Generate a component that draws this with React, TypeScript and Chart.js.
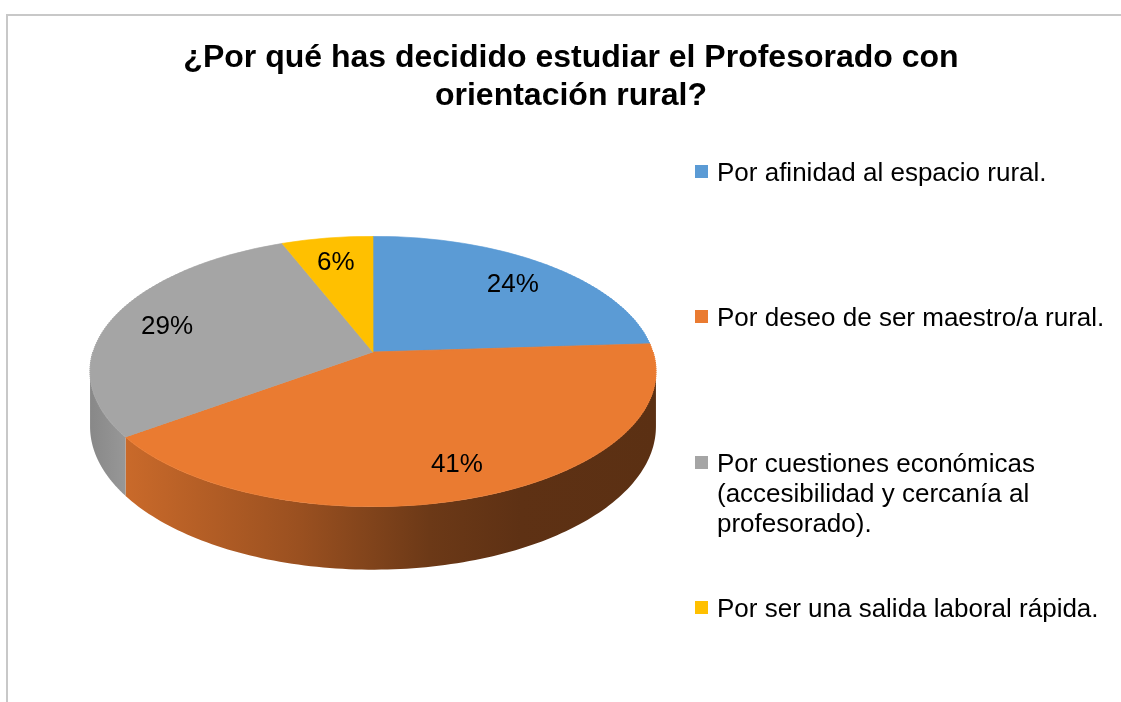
import React, { useEffect, useRef } from 'react';
import { Chart, registerables } from 'chart.js';

Chart.register(...registerables);

// ---- data ----
const TITLE_LINES = ['¿Por qué has decidido estudiar el Profesorado con', 'orientación rural?'];
const CATEGORIES = [
  ['Por afinidad al espacio rural.'],
  ['Por deseo de ser maestro/a rural.'],
  ['Por cuestiones económicas', '(accesibilidad y cercanía al', 'profesorado).'],
  ['Por ser una salida laboral rápida.'],
];
const PERCENTAGES = [24, 41, 29, 6];
const TOP_COLORS = ['#5B9BD5', '#EA7B31', '#A5A5A5', '#FFC000'];
const SIDE_STOPS: [number, string][][] = [
  [[0, '#3d6f9e'], [1, '#2c5378']],
  [[0, '#d06e2c'], [0.07, '#c8692a'], [0.37, '#9a5020'], [0.6, '#6c3917'], [0.76, '#5e3114'], [1, '#5b3013']],
  [[0, '#888888'], [0.07, '#999999'], [1, '#999999']],
  [[0, '#b88a00'], [1, '#8a6700']],
];

const FONT = '"Liberation Sans", Arial, Helvetica, sans-serif';

// 3D perspective pie: the library's arc elements are redrawn in thin horizontal
// strips, each under the affine transform that approximates the perspective there.
const pie3dPlugin = {
  id: 'pie3d',
  beforeDatasetsDraw(chart: any, _args: any, opts: any) {
    const ctx = chart.ctx;
    const arcs = chart.getDatasetMeta(0).data;
    if (!arcs.length) return;
    const p0 = arcs[0].getProps(['x', 'y', 'outerRadius'], true);
    const cx = p0.x, cy = p0.y, r = p0.outerRadius;
    const A = opts.yScale * r;
    const B = opts.persp;
    const d0 = opts.depth;
    const proj = (px: number, py: number) => {
      const t = (py - cy) / r;
      const w = 1 - B * t;
      return [cx + (px - cx) / w, cy + (A * t) / w, w];
    };

    // ---- side walls ----
    const vis0 = Math.asin(B);
    const vis1 = Math.PI - vis0;
    const xMin = cx - r / Math.sqrt(1 - B * B);
    const xMax = cx + r / Math.sqrt(1 - B * B);
    arcs.forEach((arc: any, i: number) => {
      const { startAngle, endAngle } = arc.getProps(['startAngle', 'endAngle'], true);
      for (const base of [-2 * Math.PI, 0, 2 * Math.PI]) {
        const a0 = Math.max(startAngle, base + vis0);
        const a1 = Math.min(endAngle, base + vis1);
        if (a1 <= a0) continue;
        const n = 120;
        const top: number[][] = [];
        for (let k = 0; k <= n; k++) {
          const th = a0 + ((a1 - a0) * k) / n;
          top.push(proj(cx + r * Math.cos(th), cy + r * Math.sin(th)));
        }
        ctx.save();
        ctx.beginPath();
        top.forEach((p, k) => (k === 0 ? ctx.moveTo(p[0], p[1]) : ctx.lineTo(p[0], p[1])));
        for (let k = n; k >= 0; k--) {
          const p = top[k];
          ctx.lineTo(p[0], p[1] + d0 / p[2]);
        }
        ctx.closePath();
        const g = ctx.createLinearGradient(xMin, 0, xMax, 0);
        opts.sideStops[i].forEach(([t, c]: [number, string]) => g.addColorStop(t, c));
        ctx.fillStyle = g;
        ctx.fill();
        ctx.restore();
      }
    });

    // ---- top face in strips ----
    const yTop = Math.floor(cy - A / (1 + B)) - 2;
    const yBot = Math.ceil(cy + A / (1 - B)) + 2;
    const h = 2;
    for (let Y = yTop; Y < yBot; Y += h) {
      const Ym = Y + h / 2;
      const wv = (Ym - cy) / A;
      const tm = wv / (1 + B * wv);
      const den = 1 - B * tm;
      const sx = 1 / den;
      const sy = A / (den * den) / r;
      const pym = cy + tm * r;
      ctx.save();
      ctx.beginPath();
      ctx.rect(0, Y, chart.width, h);
      ctx.clip();
      ctx.transform(sx, 0, 0, sy, cx - sx * cx, Ym - sy * pym);
      arcs.forEach((a: any) => a.draw(ctx));
      ctx.restore();
    }

    // ---- percentage labels ----
    const values = chart.data.datasets[0].data;
    ctx.save();
    ctx.font = `${opts.labelSize}px ${FONT}`;
    ctx.fillStyle = '#000';
    ctx.textAlign = 'center';
    ctx.textBaseline = 'middle';
    arcs.forEach((arc: any, i: number) => {
      const p = arc.getProps(['startAngle', 'endAngle'], true);
      const m = (p.startAngle + p.endAngle) / 2;
      const f = opts.labelRadius;
      const q = proj(cx + f * r * Math.cos(m), cy + f * r * Math.sin(m));
      ctx.fillText(`${values[i]}%`, q[0], q[1] + opts.labelShift);
    });
    ctx.restore();
    return false;
  },
};

const textPlugin = {
  id: 'textDecor',
  beforeDraw(chart: any) {
    const ctx = chart.ctx;
    ctx.save();
    ctx.strokeStyle = '#c8c8c8';
    ctx.lineWidth = 2;
    ctx.beginPath();
    ctx.moveTo(7, chart.height + 5);
    ctx.lineTo(7, 15);
    ctx.lineTo(chart.width + 5, 15);
    ctx.stroke();
    ctx.restore();
  },
  afterDraw(chart: any, _args: any, opts: any) {
    const ctx = chart.ctx;
    ctx.save();
    ctx.fillStyle = '#000';
    ctx.font = `bold ${opts.titleSize}px ${FONT}`;
    ctx.textAlign = 'center';
    ctx.textBaseline = 'alphabetic';
    opts.title.forEach((line: string, i: number) => {
      ctx.fillText(line, opts.titleX, opts.titleY + i * opts.titleLineH);
    });
    const labels = chart.data.labels;
    const colors = chart.data.datasets[0].backgroundColor;
    ctx.font = `${opts.legendSize}px ${FONT}`;
    ctx.textAlign = 'left';
    labels.forEach((lines: string[], i: number) => {
      const by = opts.legendBaselines[i];
      ctx.fillStyle = colors[i];
      ctx.fillRect(opts.legendBoxX, by - 16, 13, 13);
      ctx.fillStyle = '#000';
      lines.forEach((ln: string, j: number) => {
        ctx.fillText(ln, opts.legendTextX, by + j * opts.legendLineH);
      });
    });
    ctx.restore();
  },
};

export default function App() {
  const ref = useRef<HTMLCanvasElement | null>(null);
  useEffect(() => {
    if (!ref.current) return;
    const chart = new Chart(ref.current, {
      type: 'pie',
      data: {
        labels: CATEGORIES as any,
        datasets: [
          {
            data: PERCENTAGES,
            backgroundColor: TOP_COLORS,
            borderColor: TOP_COLORS,
            borderWidth: 1,
            clip: false as any,
          },
        ],
      },
      options: {
        responsive: false,
        animation: false,
        devicePixelRatio: 1,
        layout: { padding: { left: 92.5, right: 467.5, top: 71.5, bottom: 69.5 } },
        plugins: {
          legend: { display: false },
          title: { display: false },
          tooltip: { enabled: false },
          pie3d: {
            yScale: 0.473,
            persp: 0.1439,
            depth: 53.9,
            sideStops: SIDE_STOPS,
            labelSize: 26,
            labelRadius: 0.79,
            labelShift: 3,
          },
          textDecor: {
            title: TITLE_LINES,
            titleSize: 32,
            titleX: 571,
            titleY: 67,
            titleLineH: 38,
            legendSize: 26,
            legendBoxX: 695,
            legendTextX: 717,
            legendBaselines: [181, 326, 472, 617],
            legendLineH: 30,
          },
        } as any,
      },
      plugins: [pie3dPlugin, textPlugin],
    });
    return () => chart.destroy();
  }, []);
  return (
    <div style={{ position: 'fixed', left: 0, top: 0, width: 1121, height: 702, overflow: 'hidden', background: '#fff' }}>
      <canvas ref={ref} width={1121} height={702} style={{ display: 'block', width: 1121, height: 702 }} />
    </div>
  );
}
